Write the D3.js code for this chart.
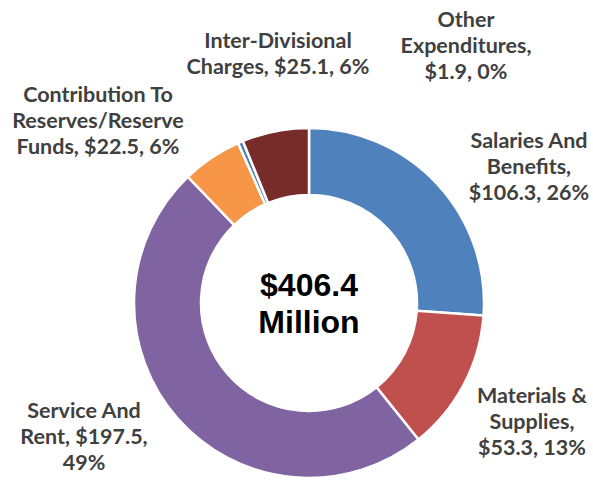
<!DOCTYPE html>
<html lang="en">
<head>
    <meta charset="UTF-8">
    <title>Expenditures donut</title>
    <script src="https://cdn.jsdelivr.net/npm/d3@7"></script>
    <style>
        body { margin: 0; background: #fff; }
        .lbl { font-family: Lato, "Open Sans", sans-serif; font-weight: bold; fill: #404040; }
        .ctr { font-family: "Liberation Sans", Arial, sans-serif; font-weight: bold; fill: #000; }
    </style>
</head>
<body>
<svg></svg>
<script>
    var categories = ["Salaries And Benefits", "Materials & Supplies", "Service And Rent",
        "Contribution To Reserves/Reserve Funds", "Other Expenditures", "Inter-Divisional Charges"];
    var values = [106.3, 53.3, 197.5, 22.5, 1.9, 25.1];
    var colors = ["#4F81BD", "#C0504D", "#8064A2", "#F79646", "#4A7EBB", "#772C2A"];
    // label text as wrapped in the original chart
    var labelLines = [
        ["Salaries And", "Benefits,", "$106.3, 26%"],
        ["Materials &", "Supplies,", "$53.3, 13%"],
        ["Service And", "Rent, $197.5,", "49%"],
        ["Contribution To", "Reserves/Reserve", "Funds, $22.5, 6%"],
        ["Other", "Expenditures,", "$1.9, 0%"],
        ["Inter-Divisional", "Charges, $25.1, 6%"]
    ];
    var centerLines = ["$406.4", "Million"];

    var width = 593, height = 481;
    var cx = 309, cy = 303, rOut = 175, rIn = 108;
    // where each label block's first baseline sits (layout only)
    var labelPos = [[529, 148], [532, 403], [84, 418], [98, 102], [466, 27], [278, 48]];
    var lineH = 26;

    var svg = d3.select("svg").attr("width", width).attr("height", height);

    var pie = d3.pie().sort(null).value(function (d) { return d; });
    var arc = d3.arc().innerRadius(rIn).outerRadius(rOut);

    var g = svg.append("g").attr("transform", "translate(" + cx + "," + cy + ")");
    g.selectAll("path")
        .data(pie(values))
        .enter()
        .append("path")
        .attr("d", arc)
        .attr("fill", function (d, i) { return colors[i]; })
        .attr("stroke", "#fff")
        .attr("stroke-width", 2.5);

    var labels = svg.selectAll("text.lbl")
        .data(labelLines)
        .enter()
        .append("text")
        .attr("class", "lbl")
        .attr("font-size", 21.5)
        .attr("text-anchor", "middle");
    labels.each(function (lines, i) {
        var t = d3.select(this);
        lines.forEach(function (s, j) {
            t.append("tspan")
                .attr("x", labelPos[i][0])
                .attr("y", labelPos[i][1] + j * lineH)
                .text(s);
        });
    });

    svg.selectAll("text.ctr")
        .data(centerLines)
        .enter()
        .append("text")
        .attr("class", "ctr")
        .attr("x", cx)
        .attr("y", function (d, i) { return 296 + i * 37; })
        .attr("text-anchor", "middle")
        .attr("font-size", 32)
        .text(function (d) { return d; });
</script>
</body>
</html>
